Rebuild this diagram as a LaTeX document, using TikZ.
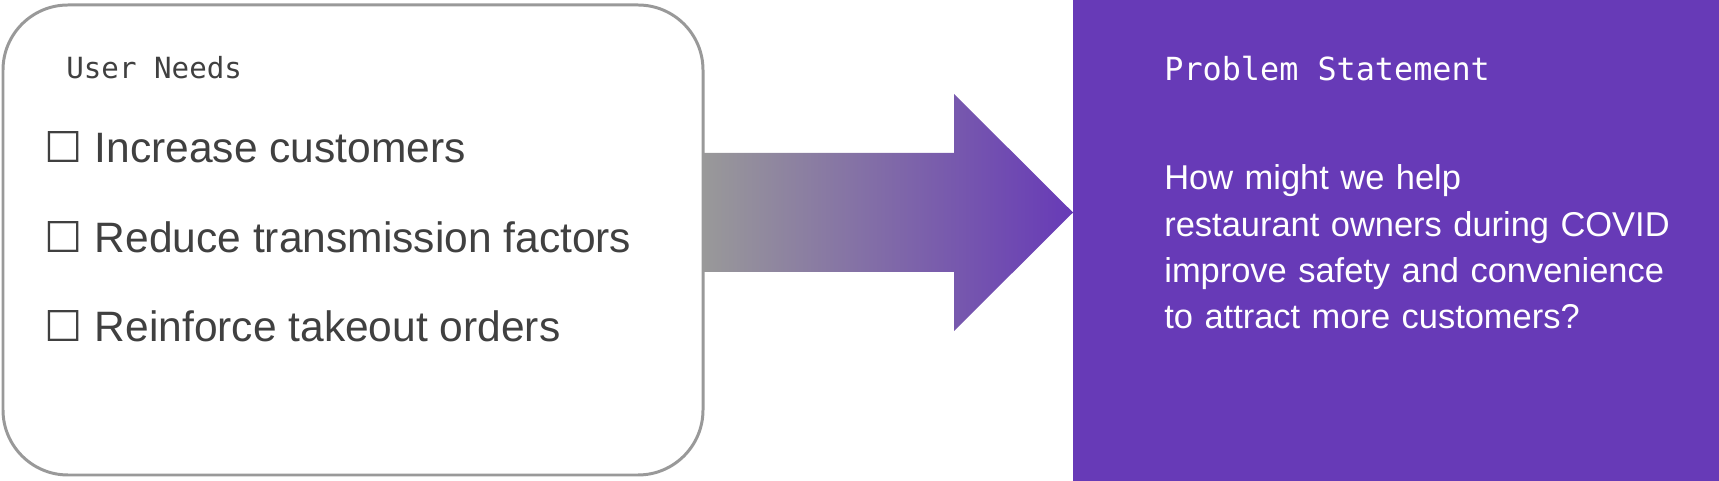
\documentclass[tikz,border=0pt]{standalone}
\usepackage{fontspec}
\setmainfont{Liberation Sans}
\setmonofont{DejaVu Sans Mono}
\newfontfamily\boxfont{DejaVu Sans}
\usetikzlibrary{positioning, calc}
\definecolor{needgray}{RGB}{153,153,153}
\definecolor{needtext}{RGB}{64,64,64}
\definecolor{psviolet}{RGB}{103,58,183}

\begin{document}
\begin{tikzpicture}
    \useasboundingbox (0,0) rectangle (34.38,9.62);
    % gradient arrow from the needs to the statement
    \coordinate (tail) at (14.06,5.37);
    \coordinate (tip) at (21.46,5.37);
    \shade[left color=needgray, right color=psviolet]
      ($(tail)+(0,1.19)$) -- ++(5.02,0) -- ++(0,1.18) -- (tip)
      -- ++(-2.38,-2.37) -- ++(0,1.18) -- ++(-5.02,0) -- cycle;
    \draw[fill=white, draw=needgray, line width=1.7pt, rounded corners=1.3cm]
      (0.06,0.12) rectangle (14.06,9.52);
    \fill[psviolet] (tip |- 0,0) rectangle (34.38,9.62);
    % left panel
    \node[anchor=base west, inner sep=0, text=needtext,
          font=\ttfamily\fontsize{16.6}{20}\selectfont] (needs) at (1.32,8.04)
      {User Needs};
    \foreach \y/\txt [count=\i] in {6.36/Increase customers,
        4.57/Reduce transmission factors, 2.78/Reinforce takeout orders}
      \node[anchor=base west, inner sep=0, text=needtext,
            font=\fontsize{24.2}{29}\selectfont] (need\i) at (0.89,\y)
        {{\boxfont ☐}~\txt};
    % right panel
    \node[anchor=base west, inner sep=0, text=white,
          font=\ttfamily\fontsize{18.1}{22}\selectfont] (problem) at (23.28,8.0)
      {Problem Statement};
    \node[anchor=base west, inner sep=0, text=white, text width=12cm,
          align=left, font=\fontsize{19.6}{26.2}\selectfont] (question)
      at (23.28,5.82)
      {How might we help\\ restaurant owners during COVID\\
       improve safety and convenience\\ to attract more customers?};
  \end{tikzpicture}
\end{document}
